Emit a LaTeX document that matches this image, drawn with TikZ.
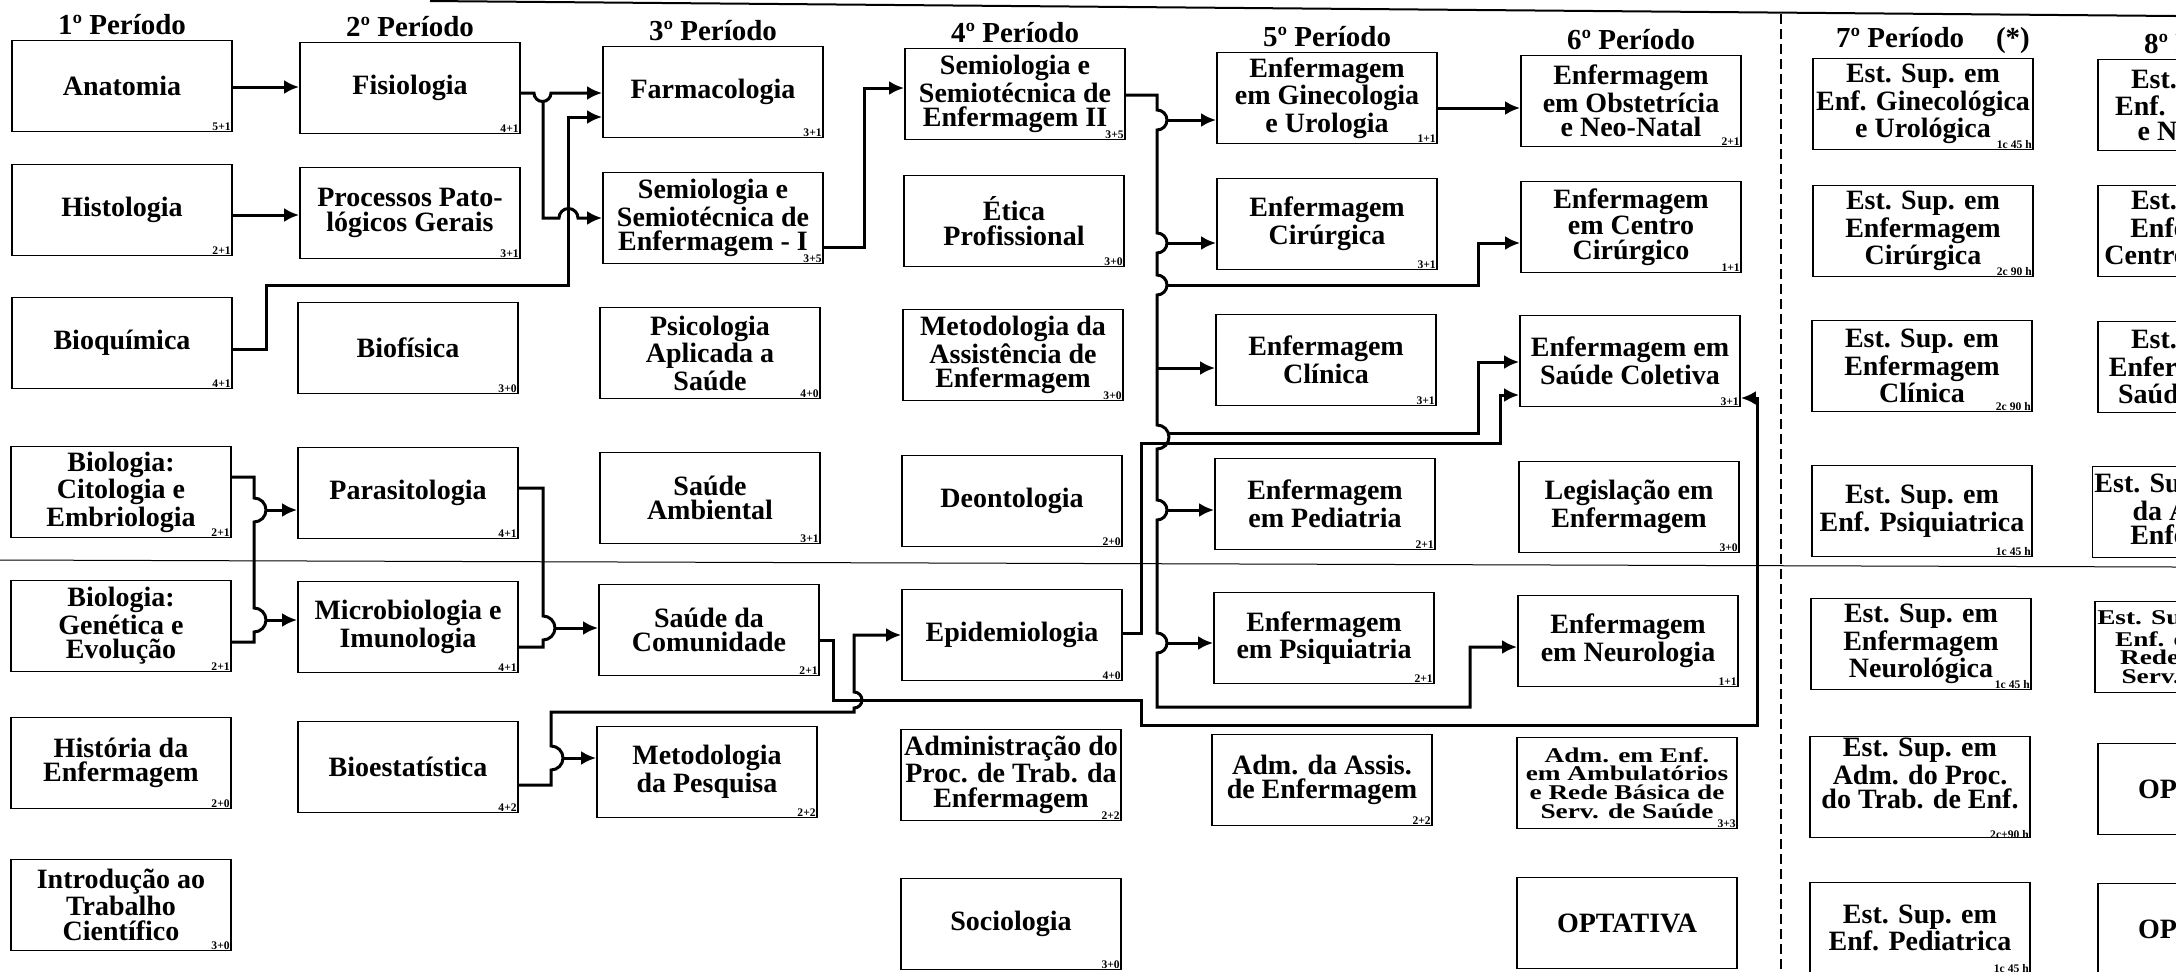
\documentclass[tikz,border=0pt]{standalone}
\usepackage{fontspec}
\setmainfont{Liberation Serif}
\newfontfamily\widefont[FakeStretch=1.3]{Liberation Serif}
\usetikzlibrary{arrows.meta}
\usetikzlibrary{positioning}
\tikzset{
  % one box per course, credits in its lower right corner
  course/.style={draw,line width=0.9pt,minimum width=110pt,minimum height=45.5pt,
    inner sep=1pt,align=center,font=\fontsize{14}{12.3}\selectfont\bfseries},
  smallcourse/.style={course,font=\widefont\fontsize{10.5}{9.3}\selectfont\bfseries},
  credit/.style={anchor=south east,inner sep=0.9pt,font=\fontsize{5.8}{5.8}\selectfont\bfseries},
  header/.style={inner sep=1pt,font=\fontsize{14.5}{14.5}\selectfont\bfseries},
  % prerequisite lines
  wire/.style={line width=1.5pt},
  link/.style={wire,-{Latex[length=7.5pt,width=7pt]}},
}
\begin{document}
\begin{tikzpicture}[x={(0.5pt,0)},y={(0,-0.5pt)}]
  \useasboundingbox (0,0) rectangle (2176,971);
  \clip (0,0) rectangle (2176,971);

  % 1st period
  \node[course,label={[credit]south east:5+1}] (anat) at (122,86) {Anatomia};
  \node[course,label={[credit]south east:2+1}] (histo) at (122,210) {Histologia};
  \node[course,label={[credit]south east:4+1}] (bioq) at (122,343) {Bioquímica};
  \node[course,label={[credit]south east:2+1}] (cito) at (121,492) {Biologia:\\Citologia e\\Embriologia};
  \node[course,label={[credit]south east:2+1}] (genet) at (121,626) {Biologia:\\Genética e\\Evolução};
  \node[course,label={[credit]south east:2+0}] (hist) at (121,763) {História da\\Enfermagem};
  \node[course,label={[credit]south east:3+0}] (intro) at (121,905) {Introdução ao\\Trabalho\\Científico};
  % 2nd period
  \node[course,label={[credit]south east:4+1}] (fisio) at (410,88) {Fisiologia};
  \node[course,label={[credit]south east:3+1}] (pato) at (410,213) {Processos Pato-\\lógicos Gerais};
  \node[course,label={[credit]south east:3+0}] (biofis) at (408,348) {Biofísica};
  \node[course,label={[credit]south east:4+1}] (paras) at (408,493) {Parasitologia};
  \node[course,label={[credit]south east:4+1}] (micro) at (408,627) {Microbiologia e\\Imunologia};
  \node[course,label={[credit]south east:4+2}] (bioest) at (408,767) {Bioestatística};
  % 3rd period
  \node[course,label={[credit]south east:3+1}] (farma) at (713,92) {Farmacologia};
  \node[course,label={[credit]south east:3+5}] (semio1) at (713,218) {Semiologia e\\Semiotécnica de\\Enfermagem - I};
  \node[course,label={[credit]south east:4+0}] (psico) at (710,353) {Psicologia\\Aplicada a\\Saúde};
  \node[course,label={[credit]south east:3+1}] (ambient) at (710,498) {Saúde\\Ambiental};
  \node[course,label={[credit]south east:2+1}] (comun) at (709,630) {Saúde da\\Comunidade};
  \node[course,label={[credit]south east:2+2}] (metpesq) at (707,772) {Metodologia\\da Pesquisa};
  % 4th period
  \node[course,label={[credit]south east:3+5}] (semio2) at (1015,94) {Semiologia e\\Semiotécnica de\\Enfermagem II};
  \node[course,label={[credit]south east:3+0}] (etica) at (1014,221) {Ética\\Profissional};
  \node[course,label={[credit]south east:3+0}] (metassist) at (1013,355) {Metodologia da\\Assistência de\\Enfermagem};
  \node[course,label={[credit]south east:2+0}] (deonto) at (1012,501) {Deontologia};
  \node[course,label={[credit]south east:4+0}] (epidem) at (1012,635) {Epidemiologia};
  \node[course,label={[credit]south east:2+2}] (admproc) at (1011,775) {Administração do\\Proc. de Trab. da\\Enfermagem};
  \node[course,label={[credit]south east:3+0}] (socio) at (1011,924) {Sociologia};
  % 5th period
  \node[course,label={[credit]south east:1+1}] (gineco) at (1327,98) {Enfermagem\\em Ginecologia\\e Urologia};
  \node[course,label={[credit]south east:3+1}] (cirurg) at (1327,224) {Enfermagem\\Cirúrgica};
  \node[course,label={[credit]south east:3+1}] (clinica) at (1326,360) {Enfermagem\\Clínica};
  \node[course,label={[credit]south east:2+1}] (pediat) at (1325,504) {Enfermagem\\em Pediatria};
  \node[course,label={[credit]south east:2+1}] (psiq) at (1324,638) {Enfermagem\\em Psiquiatria};
  \node[course,label={[credit]south east:2+2}] (admassis) at (1322,780) {Adm. da Assis.\\de Enfermagem};
  % 6th period
  \node[course,label={[credit]south east:2+1}] (obstet) at (1631,101) {Enfermagem\\em Obstetrícia\\e Neo-Natal};
  \node[course,label={[credit]south east:1+1}] (centro) at (1631,227) {Enfermagem\\em Centro\\Cirúrgico};
  \node[course,label={[credit]south east:3+1}] (coletiva) at (1630,361) {Enfermagem em\\Saúde Coletiva};
  \node[course,label={[credit]south east:3+0}] (legis) at (1629,507) {Legislação em\\Enfermagem};
  \node[course,label={[credit]south east:1+1}] (neuro) at (1628,641) {Enfermagem\\em Neurologia};
  \node[smallcourse,label={[credit]south east:3+3}] (admamb) at (1627,783) {Adm. em Enf.\\em Ambulatórios\\e Rede Básica de\\Serv. de Saúde};
  \node[course] (optat) at (1627,923) {OPTATIVA};
  % 7th period
  \node[course,label={[credit]south east:1c 45 h}] (es1) at (1923,104) {Est. Sup. em\\Enf. Ginecológica\\e Urológica};
  \node[course,label={[credit]south east:2c 90 h}] (es2) at (1923,231) {Est. Sup. em\\Enfermagem\\Cirúrgica};
  \node[course,label={[credit]south east:2c 90 h}] (es3) at (1922,366) {Est. Sup. em\\Enfermagem\\Clínica};
  \node[course,label={[credit]south east:1c 45 h}] (es4) at (1922,511) {Est. Sup. em\\Enf. Psiquiatrica};
  \node[course,label={[credit]south east:1c 45 h}] (es5) at (1921,644) {Est. Sup. em\\Enfermagem\\Neurológica};
  \node[course,label={[credit,yshift=-1.2pt]south east:2c+90 h}] (es6) at (1920,787) {Est. Sup. em\\Adm. do Proc.\\do Trab. de Enf.\\[1pt]};
  \node[course,label={[credit]south east:1c 45 h}] (es7) at (1920,928) {Est. Sup. em\\Enf. Pediatrica};
  % 8th period, cut by the page edge
  \node[course] (ee1) at (2208,105) {Est. Sup. em\\Enf. Obstétrica\\e Neo-Natal};
  \node[course] (ee2) at (2208,231) {Est. Sup. em\\Enfermagem\\Centro Cirúrgico};
  \node[course] (ee3) at (2208,367) {Est. Sup. em\\Enfermagem em\\Saúde Coletiva};
  \node[course] (ee4) at (2208,512) {Est. Sup. em Adm.\\da Assist. de\\Enfermagem};
  \node[smallcourse] (ee5) at (2208,647) {Est. Sup. em Adm.\\Enf. em Amb. e\\Rede Básica de\\Serv. de Saúde};
  \node[course] (ee6) at (2208,789) {OPTATIVA};
  \node[course] (ee7) at (2208,929) {OPTATIVA};

  % period headers
  \node[header,above=1pt of anat] (h1) {1º Período};
  \node[header,above=1pt of fisio] (h2) {2º Período};
  \node[header,above=1pt of farma] (h3) {3º Período};
  \node[header,above=1pt of semio2] (h4) {4º Período};
  \node[header,above=1pt of gineco] (h5) {5º Período};
  \node[header,above=1pt of obstet] (h6) {6º Período};
  \node[header,above=1pt of es1,xshift=5pt] (h7) {7º Período\hspace{1.1em}(*)};
  \node[header,above=1pt of ee1] (h8) {8º Período};

  % rules of the sheet
  \draw[line width=1pt] (430,1) -- (2176,16);
  \draw[line width=0.5pt] (0,560) -- (2176,567);
  \draw[line width=1pt,dash pattern=on 5pt off 2.5pt] (1781,14) -- (1781,971);

  % prerequisites, 1st to 3rd period
  \draw[link] (anat.east |- 0,87) -- (fisio.west |- 0,87);
  \draw[link] (histo.east |- 0,215) -- (pato.west |- 0,215);
  \draw[link] (fisio.east |- 0,93) -- (534,93) arc[start angle=180,end angle=360,radius=4.25pt] -- (farma.west |- 0,93);
  \draw[link] (543,101.5) -- (543,218) -- (559,218) arc[start angle=180,end angle=0,radius=4.75pt] -- (semio1.west |- 0,218);
  \draw[link] (bioq.east |- 0,349) -| (266,285) -| (568,117) -- (farma.west |- 0,117);
  \draw[wire] (cito.east |- 0,477) -| (254,498) arc[start angle=90,end angle=-90,radius=6pt]
    -- (254,608) arc[start angle=90,end angle=-90,radius=6pt] |- (genet.east |- 0,642);
  \draw[link] (266,510) -- (paras.west |- 0,510);
  \draw[link] (266,620) -- (micro.west |- 0,620);
  \draw[wire] (paras.east |- 0,488) -| (543,616) arc[start angle=90,end angle=-90,radius=6pt] |- (micro.east |- 0,647);
  \draw[link] (555,628) -- (comun.west |- 0,628);
  \draw[link] (bioest.east |- 0,785) -| (551,770) arc[start angle=-90,end angle=90,radius=6pt]
    -- (551,712) -| (854,708) arc[start angle=-90,end angle=90,radius=4pt] |- (epidem.west |- 0,635);
  \draw[link] (563,758) -- (metpesq.west |- 0,758);
  \draw[link] (semio1.east |- 0,247) -| (864,88) -- (semio2.west |- 0,88);

  % prerequisites, 4th to 6th period
  \draw[link] (semio2.east |- 0,95) -| (1157,110) arc[start angle=90,end angle=-90,radius=5pt]
    -- (1157,233) arc[start angle=90,end angle=-90,radius=5pt]
    -- (1157,275) arc[start angle=90,end angle=-90,radius=5pt]
    -- (1157,425) arc[start angle=90,end angle=-90,radius=6pt]
    -- (1157,500) arc[start angle=90,end angle=-90,radius=5pt]
    -- (1157,633) arc[start angle=90,end angle=-90,radius=5pt]
    |- (1470,707) |- (neuro.west |- 0,647);
  \draw[link] (1167,120) -- (gineco.west |- 0,120);
  \draw[link] (1167,243) -- (cirurg.west |- 0,243);
  \draw[link] (1167,285) -| (1478,243) -- (centro.west |- 0,243);
  \draw[link] (1157,368) -- (clinica.west |- 0,368);
  \draw[link] (1169,433) -| (1478,362) -- (coletiva.west |- 0,362);
  \draw[link] (1167,510) -- (pediat.west |- 0,510);
  \draw[link] (1167,643) -- (psiq.west |- 0,643);
  \draw[link] (epidem.east |- 0,633) -- (1141,633) -- (1141,443) -| (1500,395) -- (coletiva.west |- 0,395);
  \draw[link] (comun.east |- 0,640) -| (833,700) -- (1141,700) -- (1141,725) -| (1757,398) -- (coletiva.east |- 0,398);
  \draw[link] (gineco.east |- 0,108) -- (obstet.west |- 0,108);
\end{tikzpicture}
\end{document}
